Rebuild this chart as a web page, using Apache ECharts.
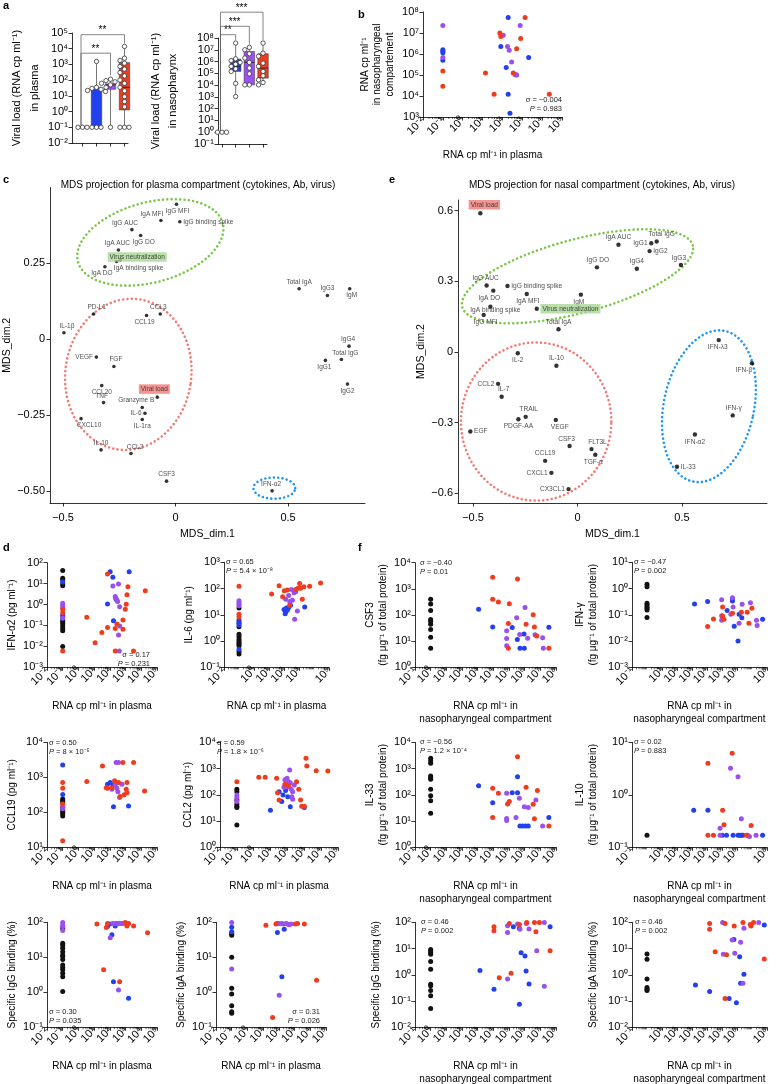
<!DOCTYPE html>
<html><head><meta charset="utf-8"><title>chart</title>
<script src="https://cdn.jsdelivr.net/npm/echarts@6.0.0/dist/echarts.min.js"></script>
<style>html,body{margin:0;padding:0;background:#fff}#chart{width:783px;height:1084px}</style>
</head><body><div id="chart"></div>
<script>
const FONT = "'Liberation Sans', Arial, Helvetica, sans-serif";
const COL = {k:'#111111', b:'#2340ee', p:'#9b50ee', r:'#f03c1e'};

// ---------- panel a ----------
const A_GROUPS = ['k','b','p','r'];
const A_PLASMA_VALUES = [
  [0.1,0.1,0.1],
  [1550,35,30,26,22,19,0.1,0.1,0.1],
  [115,93,78,63,50,35,0.1],
  [1.4e4,2500,1800,1200,740,500,300,186,102,63,35,21,8.9,4.3,2.0,0.1,0.1,0.1]
];
const A_PLASMA_BOX = [[0.1,0.1,0.1,0.1,0.1],[0.1,0.1,30,33,1550],[0.1,26,50,58,130],[0.1,1.26,35,1300,1.4e4]];
const A_PLASMA_SIG = [[0,2,5200,0.13,130],[0,3,7.8e4,0.13,1.4e4]];
const A_PLASMA_SIG_TEXT = ['**','**'];
const A_NASO_VALUES = [
  [1,1,1],
  [3.7e7,1.7e6,1.2e6,8.5e5,6e5,3.9e5,2.4e5,1.45e5,1.4e4,1070],
  [1.6e7,1e7,4.6e6,2e6,8.5e5,2.8e5,9.1e4,1.05e4,1.05e4],
  [3.7e7,5.2e6,2.8e6,7.4e5,3.9e5,1.45e5,6.2e4,2.8e4,1.66e4,1.05e4]
];
const A_NASO_BOX = [[1,1,1,1,1],[1070,1.45e5,3.9e5,1.6e6,3.7e7],[1.05e4,1.05e4,8.5e5,7.2e6,1.6e7],[1.05e4,3.9e4,2.8e5,4.6e6,3.7e7]];
const A_NASO_SIG = [[0,1,1.9e8,1.4,3.7e7],[0,2,9.8e8,1.4,1.6e7],[0,3,1.55e10,1.4,3.7e7]];
const A_NASO_SIG_TEXT = ['**','***','***'];

// ---------- panel b ----------
const B_PTS = [
  [0.1,2.3e7,'p'],[0.1,1.6e6,'b'],[0.1,1.35e6,'b'],[0.1,1.15e6,'b'],[0.1,6.8e5,'p'],[0.1,5.0e5,'b'],[0.1,1.55e5,'r'],[0.1,2.9e4,'r'],
  [14,1.26e5,'r'],[38,1.2e4,'r'],[74,1.0e7,'r'],[83,6.9e6,'r'],[110,7.9e6,'p'],[83,2.3e6,'b'],[195,5.4e7,'b'],[1380,5.4e7,'r'],
  [780,2.3e7,'p'],[830,5.4e6,'r'],[180,2.3e6,'p'],[220,1.5e6,'p'],[520,1.8e6,'r'],[2100,6.8e5,'b'],[290,4.2e5,'p'],[155,2.3e5,'b'],
  [350,1.26e5,'r'],[430,1.05e5,'p'],[520,1.0e5,'p'],[480,1.0e5,'p'],[195,1.2e4,'b'],[240,1.5e3,'b'],[2.3e4,1.2e4,'r']
];

// ---------- panel c (MDS plasma) ----------
const C_LABELS = ['IgG MFI','IgA MFI','IgG binding spike','IgG AUC','IgG DO','IgA AUC','Virus neutralization','IgA binding spike','IgA DO','Total IgA','IgG3','IgM','IgG4','Total IgG','IgG1','IgG2','PD-L1','CCL3','CCL19','IL-1β','VEGF','FGF','CCL20','TNF','Viral load','Granzyme B','IL-6','IL-1ra','CXCL10','IL-10','CCL2','CSF3','IFN-α2'];
const C_DIM1 = [0.004,-0.065,0.019,-0.194,-0.155,-0.254,-0.246,-0.262,-0.314,0.549,0.675,0.774,0.771,0.737,0.666,0.764,-0.364,-0.068,-0.129,-0.496,-0.352,-0.274,-0.328,-0.320,-0.081,-0.148,-0.136,-0.148,-0.420,-0.331,-0.198,-0.040,0.429];
const C_DIM2 = [0.445,0.391,0.387,0.361,0.342,0.294,0.261,0.256,0.239,0.166,0.144,0.166,-0.023,-0.067,-0.070,-0.148,0.083,0.083,0.078,0.021,-0.059,-0.090,-0.153,-0.209,-0.191,-0.225,-0.244,-0.265,-0.262,-0.365,-0.377,-0.468,-0.500];
// ellipse annotations: centre x, centre y, half-width, half-height (data units), tilt (deg)
const C_ELLIPSES = [[-0.112,0.319,0.333,0.132,15],[-0.210,-0.116,0.28,0.25,-8],[0.439,-0.491,0.093,0.035,0]];

// ---------- panel e (MDS nasal) ----------
const E_LABELS = ['Viral load','IgA AUC','IgG1','Total IgG','IgG2','IgG DO','IgG4','IgG3','IgG AUC','IgA DO','IgG binding spike','IgA MFI','IgM','IgA binding spike','Virus neutralization','IgG MFI','Total IgA','IL-2','IL-10','CCL2','IL-7','TRAIL','PDGF-AA','VEGF','EGF','CSF3','FLT3L','TGF-α','CCL19','CXCL1','CX3CL1','IFN-λ3','IFN-β','IFN-γ','IFN-α2','IL-33'];
const E_DIM1 = [-0.465,0.196,0.353,0.379,0.345,0.093,0.284,0.495,-0.435,-0.403,-0.335,-0.243,0.016,-0.417,-0.195,-0.449,-0.091,-0.286,-0.101,-0.380,-0.363,-0.248,-0.283,-0.104,-0.513,-0.038,0.067,0.085,-0.155,-0.125,-0.043,0.676,0.835,0.743,0.562,0.476];
const E_DIM2 = [0.589,0.455,0.461,0.469,0.428,0.359,0.353,0.369,0.282,0.260,0.280,0.246,0.243,0.192,0.183,0.157,0.096,-0.006,-0.059,-0.136,-0.191,-0.276,-0.286,-0.289,-0.338,-0.400,-0.413,-0.437,-0.463,-0.514,-0.583,0.050,-0.048,-0.270,-0.351,-0.488];
const E_ELLIPSES = [[0,0.321,0.571,0.156,15],[-0.198,-0.296,0.36,0.336,0],[0.629,-0.231,0.216,0.327,-12]];

// ---------- panels d and f ----------
const IFNA2_PTS = [
  [0.1,42,'k'],[0.1,18,'k'],[0.1,15,'k'],[0.1,12,'b'],[0.1,9.5,'k'],[0.1,7.9,'k'],
  [0.1,1.15,'p'],[0.1,0.89,'p'],[0.1,0.71,'p'],[0.1,0.59,'r'],[0.1,0.41,'r'],[0.1,0.32,'b'],[0.1,0.26,'b'],[0.1,0.22,'p'],
  [0.1,0.18,'k'],[0.1,0.15,'k'],[0.1,0.12,'k'],[0.1,0.093,'k'],[0.1,0.072,'k'],[0.1,0.056,'k'],[0.1,0.0098,'k'],[0.1,0.006,'r'],
  [3.4,0.25,'r'],[11.5,0.015,'r'],[31,0.046,'r'],[71,0.079,'r'],[71,29,'r'],[105,37,'b'],[155,20,'b'],[71,1.07,'b'],[170,0.17,'b'],[220,0.006,'r'],
  [155,7.8,'p'],[220,2.4,'p'],[240,2.0,'p'],[280,1.66,'p'],[310,1.41,'p'],[355,9.5,'p'],[420,0.79,'p'],[250,1.8,'b'],
  [220,0.072,'r'],[280,0.117,'r'],[355,0.035,'p'],[420,0.093,'p'],[680,0.066,'r'],[955,0.59,'r'],[1100,1.02,'r'],[1230,2.9,'r'],
  [1410,7.1,'r'],[1700,37,'b'],[1.8e4,4.6,'r'],[3200,0.006,'r'],[400,0.006,'p'],[680,0.18,'r']
];
const IL6_PTS = [
  [0.1,123,'r'],[0.1,34,'p'],[0.1,29,'p'],[0.1,25,'p'],[0.1,22,'p'],[0.1,18,'k'],[0.1,10.5,'r'],[0.1,8.5,'r'],[0.1,6.3,'b'],[0.1,5.5,'b'],
  [0.1,4.8,'k'],[0.1,4.1,'b'],[0.1,3.5,'k'],[0.1,1.8,'k'],[0.1,1.5,'k'],[0.1,1.2,'k'],[0.1,1.0,'k'],[0.1,0.87,'k'],[0.1,0.76,'k'],[0.1,0.65,'k'],
  [0.1,0.49,'b'],[0.1,0.40,'k'],[0.1,0.32,'k'],
  [15,62,'r'],[47,129,'r'],[81,49,'r'],[105,83,'r'],[166,89,'r'],[240,23,'r'],[1100,155,'r'],[1290,102,'r'],[2140,117,'r'],[1660,39,'r'],
  [5100,123,'r'],[2.75e4,162,'r'],[600,93,'r'],[850,102,'r'],
  [310,93,'p'],[470,69,'p'],[600,76,'p'],[204,54,'p'],[129,39,'p'],[363,36,'p'],[776,14,'p'],[513,6.8,'p'],[240,32,'p'],
  [100,16,'b'],[129,13,'b'],[166,15,'b'],[204,19,'b'],[275,23,'b'],[2400,20,'b'],[145,18,'b'],[120,11,'b']
];
const CSF3_PTS = [
  [1,400,'k'],[1,263,'k'],[1,148,'k'],[1,68,'k'],[1,56,'k'],[1,44,'k'],[1,28,'k'],[1,14,'k'],[1,5.4,'k'],
  [1150,166,'b'],[9100,2750,'r'],[9100,400,'r'],[9100,35,'b'],[2.1e4,316,'r'],[1.05e5,270,'r'],[7.1e4,25,'p'],[7.1e4,12.6,'p'],[7.1e4,6.6,'p'],
  [9.1e4,5.4,'r'],[9.1e4,47,'r'],[1.6e5,33,'b'],[3.1e5,79,'p'],[4.8e5,18,'p'],[3.4e5,11.5,'b'],[3.5e5,2400,'r'],[5.0e5,5.4,'b'],[9.1e5,18.6,'b'],
  [9.5e5,5.4,'b'],[1.05e6,195,'p'],[1.23e6,44,'r'],[1.55e6,12.9,'p'],[3.5e6,102,'r'],[4.2e6,35,'r'],[4.6e6,17.4,'p'],[5.9e6,15.8,'r'],
  [1.4e7,13.5,'p'],[1.55e7,5.4,'p'],[3.5e7,5.4,'r'],[3.5e7,34,'b']
];
const IFNG_PTS = [
  [1,1.45,'k'],[1,1.17,'k'],[1,0.275,'k'],[1,0.234,'k'],[1,0.204,'k'],[1,0.178,'k'],[1,0.151,'k'],[1,0.079,'k'],
  [1480,0.257,'b'],[1.1e4,0.324,'b'],[1.1e4,0.036,'r'],[2.7e4,0.069,'r'],[9.5e4,0.372,'p'],[9.5e4,0.093,'p'],[9.5e4,0.062,'p'],[1.1e5,0.2,'r'],
  [1.35e5,0.068,'r'],[1.1e5,0.091,'r'],[2.2e5,0.145,'b'],[3.9e5,0.105,'p'],[5.0e5,0.447,'p'],[5.0e5,0.389,'b'],[5.0e5,0.339,'b'],[5.5e5,0.2,'p'],
  [5.0e5,0.115,'r'],[6.5e5,0.037,'b'],[1.17e6,0.010,'b'],[1.38e6,0.105,'b'],[1.38e6,0.048,'p'],[2.1e6,0.078,'b'],[1.95e6,0.126,'r'],[2.2e6,0.251,'p'],
  [4.8e6,0.126,'r'],[6.2e6,0.048,'r'],[9.8e6,0.178,'r'],[7.9e6,0.288,'p'],[2.0e7,0.062,'p'],[2.2e7,0.039,'p'],[5.1e7,0.068,'b']
];
const CCL19_PTS = [
  [0.1,2240,'b'],[0.1,708,'r'],[0.1,490,'r'],[0.1,324,'b'],[0.1,240,'k'],[0.1,214,'k'],[0.1,195,'k'],[0.1,174,'r'],[0.1,155,'p'],[0.1,138,'k'],
  [0.1,126,'p'],[0.1,112,'k'],[0.1,100,'k'],[0.1,89,'k'],[0.1,79,'k'],[0.1,15.5,'r'],
  [3.4,760,'r'],[34,2090,'r'],[59,500,'r'],[71,630,'b'],[71,490,'r'],[105,708,'b'],[135,500,'r'],[155,603,'b'],[170,145,'b'],[135,457,'p'],
  [200,794,'r'],[250,2630,'p'],[355,2630,'p'],[220,603,'p'],[282,490,'p'],[324,389,'p'],[417,263,'p'],[590,630,'p'],[355,708,'r'],[457,282,'r'],
  [676,2630,'r'],[813,316,'r'],[1230,708,'r'],[1100,457,'r'],[1230,363,'r'],[1550,151,'b'],[3240,2630,'r'],[1.62e4,407,'r']
];
const CCL2_PTS = [
  [0.1,316,'r'],[0.1,162,'k'],[0.1,132,'k'],[0.1,98,'p'],[0.1,79,'p'],[0.1,63,'k'],[0.1,55,'p'],[0.1,45,'k'],[0.1,37,'k'],[0.1,33,'k'],[0.1,7.1,'k'],
  [2.0,468,'r'],[4.8,468,'r'],[23,427,'r'],[26,120,'r'],[32,63,'r'],[32,132,'b'],[9.8,26,'b'],[46,55,'b'],[55,98,'b'],[78,145,'b'],[105,85,'b'],
  [148,35,'b'],[1000,33,'b'],[71,251,'r'],[117,219,'r'],[347,316,'r'],[468,162,'r'],[603,63,'r'],[708,37,'r'],[1000,37,'r'],[1260,2450,'r'],
  [1410,1260,'r'],[5100,830,'r'],[2.5e4,810,'r'],
  [71,372,'p'],[95,427,'p'],[117,316,'p'],[148,288,'p'],[135,890,'p'],[166,162,'p'],[204,132,'p'],[110,204,'p'],[182,85,'p'],[204,68,'p'],[257,234,'p'],[62,195,'p']
];
const IL33_PTS = [
  [1,2450,'k'],[1,2000,'k'],[1,1580,'k'],[1,525,'k'],[1,447,'k'],[1,389,'k'],[1,162,'k'],[1,93,'k'],[1,59,'k'],[1,20,'k'],
  [1150,219,'b'],[9100,178,'r'],[9100,50,'b'],[9100,13.8,'r'],[2.1e4,115,'r'],[7.1e4,115,'p'],[7.1e4,12.6,'p'],[7.1e4,10.5,'p'],[8.1e4,45,'r'],
  [1.05e5,55,'r'],[1.6e5,120,'b'],[3.5e5,120,'b'],[3.5e5,2800,'r'],[3.5e5,490,'b'],[2.8e5,13.8,'p'],[4.6e5,74,'p'],[5.0e5,6.5,'b'],[7.4e5,6.5,'b'],
  [1.15e6,6.5,'b'],[1.7e6,6.5,'b'],[1.23e6,195,'r'],[9.5e5,35,'p'],[1.7e6,33,'p'],[3.5e6,44,'r'],[4.2e6,12.3,'r'],[5.2e6,63,'p'],[6.5e6,145,'r'],
  [1.4e7,6.5,'p'],[3.5e7,6.5,'r'],[3.5e7,13.8,'b']
];
const IL10_PTS = [
  [1,0.17,'k'],
  [1300,0.51,'b'],[1.15e4,0.51,'b'],[1.15e4,4.0,'r'],[1.15e4,0.17,'r'],[2.7e4,0.17,'r'],[7.4e4,0.17,'p'],[7.4e4,0.23,'p'],[1.05e5,0.17,'b'],
  [1.1e5,0.51,'r'],[1.35e5,0.27,'r'],[2.0e5,0.17,'b'],[3.7e5,3.2,'p'],[4.8e5,6.2,'r'],[5.5e5,0.17,'b'],[1.17e6,2.2,'p'],[1.17e6,0.17,'b'],
  [1.5e6,0.17,'b'],[1.95e6,0.35,'p'],[1.95e6,0.17,'b'],[2.5e6,0.17,'b'],[4.2e6,0.17,'r'],[5.2e6,0.17,'p'],[6.8e6,0.16,'p'],[8.7e6,0.26,'r'],
  [1.86e7,0.17,'p'],[5.1e7,0.17,'b']
];
const IGG_PLASMA_PTS = [
  [0.1,98,'p'],[0.1,83,'p'],[0.1,76,'p'],[0.1,68,'k'],[0.1,58,'p'],[0.1,25,'k'],[0.1,22,'k'],[0.1,18,'k'],[0.1,14.5,'k'],[0.1,11.7,'k'],
  [0.1,10.5,'k'],[0.1,8.7,'k'],[0.1,6.0,'k'],[0.1,5.1,'k'],[0.1,4.4,'k'],[0.1,3.5,'k'],[0.1,2.8,'k'],[0.1,1.05,'k'],
  [15,89,'r'],[59,71,'r'],[71,93,'r'],[40,4.4,'r'],[417,2.0,'r'],[955,98,'r'],[1230,79,'r'],[1550,93,'r'],[3240,79,'r'],[2.5e4,50,'r'],
  [71,76,'b'],[135,44,'b'],[170,2.0,'b'],[1550,0.68,'b'],[220,79,'b'],[100,90,'b'],
  [105,36,'p'],[355,1.17,'p'],[155,93,'p'],[220,93,'p'],[282,93,'p'],[355,93,'p'],[457,93,'p'],[590,93,'p'],[760,93,'p']
];
const IGA_PLASMA_PTS = [
  [0.1,98,'p'],[0.1,72,'b'],[0.1,54,'b'],[0.1,48,'k'],[0.1,43,'k'],[0.1,10,'k'],[0.1,4.6,'p'],[0.1,1.3,'k'],[0.1,0.89,'k'],[0.1,0.41,'k'],
  [0.1,0.28,'k'],[0.1,0.25,'k'],
  [15,83,'r'],[65,89,'r'],[81,93,'b'],[81,51,'b'],[220,63,'b'],[155,2.8,'b'],[105,0.83,'p'],[40,0.19,'r'],[2.5e4,2.2,'r'],
  [100,93,'p'],[150,93,'p'],[200,89,'p'],[280,93,'p'],[350,89,'p'],[450,85,'p'],[600,89,'p'],
  [1100,89,'r'],[1550,93,'r'],[4200,89,'r']
];
const IGG_NASAL_PTS = [
  [1,9.3,'k'],[1,8.1,'k'],[1,6.9,'k'],[1,6.0,'k'],[1,3.2,'k'],[1,1.62,'k'],[1,0.44,'k'],[1,0.38,'k'],[1,0.25,'k'],[1,0.16,'k'],[1,0.052,'k'],
  [1400,1.45,'b'],[1.1e4,68,'r'],[1.1e4,48,'r'],[1.1e4,0.28,'b'],[2.4e4,0.78,'r'],[1.05e5,91,'r'],[8.1e4,41,'p'],[8.1e4,74,'p'],[8.1e4,0.69,'p'],
  [1.35e5,1.15,'r'],[1.9e5,68,'b'],[3.5e5,87,'p'],[4.6e5,83,'r'],[5.0e5,54,'p'],[4.6e5,59,'b'],[5.9e5,6.9,'b'],[1.05e6,5.2,'b'],[1.23e6,1.41,'b'],
  [4.6e5,0.076,'b'],[1.35e6,98,'r'],[1.3e6,90,'p'],[1.9e6,56,'p'],[1.9e6,0.45,'b'],[5.2e6,44,'r'],[4.2e6,98,'r'],[8.7e6,98,'r'],[5.9e6,8.3,'p'],
  [1.8e7,98,'p'],[1.8e7,0.37,'p'],[4.2e7,8.3,'r'],[4.2e7,68,'b']
];
const IGA_NASAL_PTS = [
  [1,6.2,'k'],[1,3.9,'k'],[1,0.69,'k'],[1,0.33,'k'],[1,0.28,'k'],[1,0.25,'k'],
  [1700,0.41,'b'],[1.5e4,0.23,'b'],[1.5e4,91,'r'],[1.5e4,54,'r'],[3.5e4,7.6,'r'],[1.1e5,98,'p'],[1.6e5,91,'r'],[1.23e5,6.0,'p'],[2.0e5,5.8,'r'],
  [1.6e5,0.126,'r'],[6.5e5,72,'r'],[6.2e5,22,'b'],[4.8e5,21,'p'],[7.1e5,6.6,'p'],[9.1e5,0.087,'b'],[3.0e5,0.126,'b'],[1.5e6,4.9,'b'],[1.74e6,17.4,'p'],
  [1.74e6,0.48,'b'],[2.9e6,59,'p'],[2.5e6,98,'r'],[7.6e6,83,'r'],[1.26e7,98,'r'],[8.7e6,72,'r'],[2.9e6,1.05,'b'],[2.5e6,0.48,'p'],[2.8e7,98,'p'],
  [6.6e7,79,'b'],[6.6e7,4.0,'r']
];
// correlation statistics shown in the panels
const STATS = {
  b:['−0.004','0.983'], ifna2:['0.17','0.231'], il6:['0.65','5.4 × 10⁻⁸'], csf3:['−0.40','0.01'], ifng:['−0.47','0.002'],
  ccl19:['0.50','8 × 10⁻⁵'], ccl2:['0.59','1.8 × 10⁻⁶'], il33:['−0.56','1.2 × 10⁻⁴'], il10:['0.02','0.883'],
  iggP:['0.30','0.035'], igaP:['0.31','0.026'], iggN:['0.46','0.002'], igaN:['0.46','0.002']
};

// ================= layout / styling =================
const SUP = {'-':'⁻','0':'⁰','1':'¹','2':'²','3':'³','4':'⁴','5':'⁵','6':'⁶','7':'⁷','8':'⁸','9':'⁹'};
const sup = s => String(s).replace(/[-0-9]/g, c => SUP[c]);
const powLabel = v => '10' + sup(Math.round(Math.log10(v)));
const XN_PLASMA = 'RNA cp ml⁻¹ in plasma';
const XN_NASAL = 'RNA cp ml⁻¹ in\nnasopharyngeal compartment';

const option = {animation:false, backgroundColor:'#ffffff', textStyle:{fontFamily:FONT},
  grid:[], xAxis:[], yAxis:[], series:[], graphic:{elements:[]}};
const GE = option.graphic.elements;
function addGrid(l,t,w,h){ option.grid.push({left:l, top:t, width:w, height:h, outerBoundsMode:'none', containLabel:false}); return option.grid.length-1; }
const axLine = () => ({show:true, onZero:false, lineStyle:{color:'#000', width:0.8}});
const axTick = (extra) => Object.assign({show:true, length:3.5, inside:false, lineStyle:{color:'#000', width:0.8}}, extra||{});
const nameStyle = (fs, lh) => ({fontSize:fs||10, color:'#000', lineHeight:lh||13, fontFamily:FONT});

function logAxis(gi, min, max, horiz, name, gap, extra){
  return Object.assign({type:'log', logBase:10, gridIndex:gi, min, max, interval:1,
    axisLine:axLine(), axisTick:axTick(), splitLine:{show:false}, minorTick:{show:false},
    axisLabel:{fontSize:11, color:'#000', margin:horiz?2:4, rotate:horiz?45:0, interval:0, showMinLabel:true, showMaxLabel:true, hideOverlap:false, formatter:powLabel, fontFamily:FONT},
    name, nameLocation:'middle', nameGap:gap, nameRotate:horiz?0:90, nameTextStyle:nameStyle()}, extra||{});
}
function valAxis(gi, min, max, ticks, dec, horiz, name, gap){
  const fmt = v => v===0 ? '0' : (v<0?'−':'') + Math.abs(v).toFixed(dec);
  return {type:'value', gridIndex:gi, min, max, axisLine:axLine(), axisTick:axTick({customValues:ticks}),
    axisLabel:{customValues:ticks, formatter:fmt, fontSize:11, color:'#000', margin:horiz?9:5, fontFamily:FONT},
    splitLine:{show:false}, name, nameLocation:'middle', nameGap:gap, nameRotate:horiz?0:90, nameTextStyle:nameStyle(10.5)};
}
function addPoints(gi, pts, size){
  ['k','b','p','r'].forEach(g => {
    const d = pts.filter(p => p[2]===g).map(p => [p[0], p[1]]);
    if (d.length) option.series.push({type:'scatter', xAxisIndex:gi, yAxisIndex:gi, data:d, symbolSize:size,
      itemStyle:{color:COL[g], opacity:1}, silent:true, z:3});
  });
}
// log-spaced minor ticks along the bottom axis (axis decoration)
function addMinorX(gi, xr, yMin){
  const vals = [];
  for (let e = Math.round(Math.log10(xr[0])); e < Math.round(Math.log10(xr[1])); e++)
    for (let m = 2; m <= 9; m++) vals.push([m * Math.pow(10, e), yMin]);
  option.series.push({type:'custom', xAxisIndex:gi, yAxisIndex:gi, silent:true, clip:false, z:1, data:vals,
    renderItem(params, api){
      const c = api.coord([api.value(0), api.value(1)]);
      return {type:'line', shape:{x1:c[0], y1:c[1], x2:c[0], y2:c[1]+2}, style:{stroke:'#000', lineWidth:0.6}};
    }});
}
function text(x, y, str, o){
  o = o || {};
  GE.push({type:'text', x, y, silent:true, style:Object.assign({text:str, fill:o.fill||'#000', fontSize:o.fs||10, fontFamily:FONT,
    fontWeight:o.fw||'normal', align:o.align||'left', textAlign:o.align||'left', verticalAlign:'middle', textVerticalAlign:'middle'}, o.style||{})});
}
function stat(x, y, s, align){
  const rich = {n:{fontSize:7.5, fontFamily:FONT, fill:'#222'}, i:{fontSize:7.5, fontFamily:FONT, fontStyle:'italic', fill:'#222'}};
  text(x, y, '{n|σ = ' + s[0] + '}', {align, style:{rich}});
  text(x, y+8.5, '{i|P}{n| = ' + s[1] + '}', {align, style:{rich}});
}

// ---------- panel a ----------
function swarm(vals, pxDec){
  const placed = [];
  return vals.map(v => {
    const y = Math.log10(v) * pxDec;
    for (const dx of [0,-4.5,4.5,-9,9]) {
      if (placed.every(q => Math.hypot(q[0]-dx, q[1]-y) >= 4.3)) { placed.push([dx,y]); return dx; }
    }
    placed.push([0,y]); return 0;
  });
}
function boxPanel(gi, values, boxes, sig, sigText, pxDec){
  option.series.push({type:'custom', xAxisIndex:gi, yAxisIndex:gi, silent:true, z:2,
    data: boxes.map((b,i) => [i].concat(b)),
    renderItem(params, api){
      const i = api.value(0), col = COL[A_GROUPS[params.dataIndex]];
      const pMin = api.coord([i, api.value(1)]), pQ1 = api.coord([i, api.value(2)]), pMed = api.coord([i, api.value(3)]);
      const pQ3 = api.coord([i, api.value(4)]), pMax = api.coord([i, api.value(5)]);
      const w = 10.5, x = pMin[0];
      return {type:'group', children:[
        {type:'line', shape:{x1:x, y1:pMin[1], x2:x, y2:pMax[1]}, style:{stroke:'#555', lineWidth:0.8}},
        {type:'rect', shape:{x:x-w/2, y:pQ3[1], width:w, height:Math.max(0.01, pQ1[1]-pQ3[1])}, style:{fill:col, stroke:'#333', lineWidth:0.5}},
        {type:'line', shape:{x1:x-w/2, y1:pMed[1], x2:x+w/2, y2:pMed[1]}, style:{stroke:'#222', lineWidth:0.9}}
      ]};
    }});
  const pts = [];
  values.forEach((vals, c) => { const dxs = swarm(vals, pxDec); vals.forEach((v, j) => pts.push([c, v, dxs[j]])); });
  option.series.push({type:'custom', xAxisIndex:gi, yAxisIndex:gi, silent:true, z:3, data:pts,
    renderItem(params, api){
      const p = api.coord([api.value(0), api.value(1)]);
      return {type:'circle', shape:{cx:p[0]+api.value(2), cy:p[1], r:2.2}, style:{fill:'#fff', stroke:'#333', lineWidth:0.8}};
    }});
  option.series.push({type:'custom', xAxisIndex:gi, yAxisIndex:gi, silent:true, z:2, clip:false, data:sig,
    renderItem(params, api){
      const a = api.coord([api.value(0), api.value(2)]), b = api.coord([api.value(1), api.value(2)]);
      const e1 = api.coord([api.value(0), api.value(3)]), e2 = api.coord([api.value(1), api.value(4)]);
      return {type:'group', children:[
        {type:'polyline', shape:{points:[[e1[0]-1.5,e1[1]],[a[0]-1.5,a[1]],[b[0],b[1]],[e2[0],e2[1]-3]]}, style:{stroke:'#666', lineWidth:0.8, fill:null}},
        {type:'text', x:(a[0]+b[0])/2 - 1, y:a[1]+1, style:{text:sigText[params.dataIndex], fontSize:10, fontFamily:FONT, fill:'#000',
          align:'center', textAlign:'center', verticalAlign:'bottom', textVerticalAlign:'bottom'}}
      ]};
    }});
}
let gi = addGrid(72,33,56,110);
option.xAxis.push({type:'value', gridIndex:gi, min:-0.75, max:3.25, axisLine:axLine(), axisTick:axTick({customValues:[0,1,2,3]}), axisLabel:{show:false}, splitLine:{show:false}});
option.yAxis.push(logAxis(gi, 1e-2, 1e5, false, 'Viral load (RNA cp ml⁻¹)\nin plasma', 22, {nameTextStyle:nameStyle(11,18)}));
boxPanel(gi, A_PLASMA_VALUES, A_PLASMA_BOX, A_PLASMA_SIG, A_PLASMA_SIG_TEXT, 15.7);

gi = addGrid(218,38,49,106);
option.xAxis.push({type:'value', gridIndex:gi, min:-0.29, max:3.29, axisLine:axLine(), axisTick:axTick({customValues:[0,1,2,3]}), axisLabel:{show:false}, splitLine:{show:false}});
option.yAxis.push(logAxis(gi, 1e-1, 1e8, false, 'Viral load (RNA cp ml⁻¹)\nin nasopharynx', 37, {nameTextStyle:nameStyle(11,17)}));
boxPanel(gi, A_NASO_VALUES, A_NASO_BOX, A_NASO_SIG, A_NASO_SIG_TEXT, 11.8);

// ---------- panel b ----------
gi = addGrid(423,12,139,105);
option.xAxis.push(logAxis(gi, 1e-2, 1e5, true, XN_PLASMA, 32));
option.yAxis.push(logAxis(gi, 1e3, 1e8, false, 'RNA cp ml⁻¹\nin nasopharyngeal\ncompartement', 27, {nameTextStyle:nameStyle(10,12.5)}));
addMinorX(gi, [1e-2,1e5], 1e3);
addPoints(gi, B_PTS, 5);
stat(562, 100, STATS.b, 'right');

// ---------- MDS panels ----------
const C_LAY = [['bottom',1,0],['top',-9,0],['right',0,0],['top',-7,0],['bottom',3,0],['top',-1,0],['inside',17,-3,'#a9d796'],['inside',22,7],
  ['bottom',-3,0],['top',0,0],['top',0,0],['bottom',2,0],['top',-1,0],['top',4,0],['bottom',-1,0],['bottom',0,0],['top',3,0],['top',-2,0],
  ['bottom',-2,0],['top',3,0],['left',0,0],['top',2,0],['bottom',0,0],['top',-2,0],['top',-3,0,'#f07a78'],['top',-6,0],['left',0,0],
  ['bottom',0,0],['bottom',8,0],['top',0,0],['top',4,0],['top',0,0],['top',-1,0]];
const E_LAY = [['top',4,0,'#f07a78'],['top',0,0],['left',0,0],['top',5,0],['right',0,0],['top',1,0],['top',0,0],['top',-2,0],['top',-1,0],
  ['bottom',-4,0],['right',0,0],['bottom',1,0],['bottom',-2,0],['inside',5,4],['right',0,0,'#a9d796'],['bottom',2,0],['top',0,0],['bottom',0,0],
  ['top',0,0],['left',0,0],['top',2,0],['top',3,0],['bottom',0,0],['bottom',4,0],['right',0,0],['top',-3,0],['top',6,0],['bottom',-2,0],
  ['top',0,0],['left',0,0],['left',0,0],['bottom',-1,0],['bottom',-8,0],['top',1,0],['bottom',0,0],['right',0,0]];
const ELL_COL = ['#7cc64a','#f37a72','#2196f3'];
function mds(gi, names, d1, d2, lay, ells, dot, fs){
  option.series.push({type:'custom', xAxisIndex:gi, yAxisIndex:gi, silent:true, z:1, clip:false, data:ells,
    renderItem(params, api){
      const c = api.coord([api.value(0), api.value(1)]);
      const s = api.size([api.value(2), api.value(3)]);
      const th = api.value(4) * Math.PI / 180, a = s[0], b = s[1];
      const pts = [];
      for (let k = 0; k < 120; k++) {
        const t = k / 120 * 2 * Math.PI, x = a*Math.cos(t), y = b*Math.sin(t);
        pts.push([c[0] + x*Math.cos(th) - y*Math.sin(th), c[1] - (x*Math.sin(th) + y*Math.cos(th))]);
      }
      return {type:'polygon', shape:{points:pts}, style:{fill:null, stroke:ELL_COL[params.dataIndex], lineWidth:2.6, lineDash:[0.01,4.3], lineCap:'round'}};
    }});
  const data = names.map((n,i) => {
    const L = lay[i];
    const lab = {show:true, position:L[0], offset:[L[1],L[2]], formatter:n};
    if (L[3]) { lab.backgroundColor = L[3]; lab.padding = [1.5,2,1,2]; }
    return {value:[d1[i], d2[i]], name:n, label:lab};
  });
  option.series.push({type:'scatter', xAxisIndex:gi, yAxisIndex:gi, data, symbolSize:dot, silent:true, z:4,
    itemStyle:{color:'#000'}, label:{fontSize:fs, color:'#222', distance:1.5, fontFamily:FONT}});
}
gi = addGrid(50,187.5,315,315.5);
option.xAxis.push(valAxis(gi, -0.558, 0.842, [-0.5,0,0.5], 1, true, 'MDS_dim.1', 25));
option.yAxis.push(valAxis(gi, -0.54, 0.5, [-0.5,-0.25,0,0.25], 2, false, 'MDS_dim.2', 34));
mds(gi, C_LABELS, C_DIM1, C_DIM2, C_LAY, C_ELLIPSES, 3.6, 6.5);

gi = addGrid(458,200,309,303);
option.xAxis.push(valAxis(gi, -0.572, 0.907, [-0.5,0,0.5], 1, true, 'MDS_dim.1', 25));
option.yAxis.push(valAxis(gi, -0.642, 0.645, [-0.6,-0.3,0,0.3,0.6], 1, false, 'MDS_dim.2', 30));
mds(gi, E_LABELS, E_DIM1, E_DIM2, E_LAY, E_ELLIPSES, 4.4, 6.6);

// ---------- panels d & f ----------
const PANELS = [
  {pts:IFNA2_PTS, box:[47,562.7,110,104.6], xr:[1e-2,1e5], yr:[1e-3,1e2], xn:XN_PLASMA, yn:'IFN-α2 (pg ml⁻¹)', yg:28, st:[STATS.ifna2,150,655,'right']},
  {pts:IL6_PTS, box:[224,562.3,105,105], xr:[1e-2,1e5], yr:[1e-1,1e3], xn:XN_PLASMA, yn:'IL-6 (pg ml⁻¹)', yg:19, st:[STATS.il6,226,562,'left']},
  {pts:CSF3_PTS, box:[415,562.7,141,104.6], xr:[1e-1,1e8], yr:[1,1e4], xn:XN_NASAL, yn:'CSF3\n(fg μg⁻¹ of total protein)', yg:23, st:[STATS.csf3,420,563,'left']},
  {pts:IFNG_PTS, box:[632,562.3,135,105], xr:[1e-1,1e8], yr:[1e-3,1e1], xn:XN_NASAL, yn:'IFN-γ\n(fg μg⁻¹ of total protein)', yg:32, st:[STATS.ifng,634,562,'left']},
  {pts:CCL19_PTS, box:[47,742.3,110,105], xr:[1e-2,1e5], yr:[10,1e4], xn:XN_PLASMA, yn:'CCL19 (pg ml⁻¹)', yg:28, st:[STATS.ccl19,49,743,'left']},
  {pts:CCL2_PTS, box:[220,742.3,118,105], xr:[1e-2,1e5], yr:[1,1e4], xn:XN_PLASMA, yn:'CCL2 (pg ml⁻¹)', yg:16, st:[STATS.ccl2,217,743,'left']},
  {pts:IL33_PTS, box:[415,742.3,141,105], xr:[1e-1,1e8], yr:[1,1e4], xn:XN_NASAL, yn:'IL-33\n(fg μg⁻¹ of total protein)', yg:23, st:[STATS.il33,420,742,'left']},
  {pts:IL10_PTS, box:[632,742.3,135,105], xr:[1e-1,1e8], yr:[1e-1,1e1], xn:XN_NASAL, yn:'IL-10\n(fg μg⁻¹ of total protein)', yg:32, st:[STATS.il10,634,742,'left']},
  {pts:IGG_PLASMA_PTS, box:[47,922.3,110,105], xr:[1e-2,1e5], yr:[1e-1,1e2], xn:XN_PLASMA, yn:'Specific IgG binding (%)', yg:27, st:[STATS.iggP,49,1012,'left']},
  {pts:IGA_PLASMA_PTS, box:[216,922.3,110,105], xr:[1e-2,1e5], yr:[1e-1,1e2], xn:XN_PLASMA, yn:'Specific IgA binding (%)', yg:19, st:[STATS.igaP,320,1012,'right']},
  {pts:IGG_NASAL_PTS, box:[415,922.3,141,105], xr:[1e-1,1e8], yr:[1e-2,1e2], xn:XN_NASAL, yn:'Specific IgG binding (%)', yg:32, st:[STATS.iggN,421,922,'left']},
  {pts:IGA_NASAL_PTS, box:[632,922.3,135,105], xr:[1e-1,1e8], yr:[1e-2,1e2], xn:XN_NASAL, yn:'Specific IgA binding (%)', yg:32, st:[STATS.igaN,635,922,'left']}
];
PANELS.forEach(P => {
  const g = addGrid(P.box[0], P.box[1], P.box[2], P.box[3]);
  option.xAxis.push(logAxis(g, P.xr[0], P.xr[1], true, P.xn, 32));
  option.yAxis.push(logAxis(g, P.yr[0], P.yr[1], false, P.yn, P.yg));
  addMinorX(g, P.xr, P.yr[0]);
  addPoints(g, P.pts, 5);
  stat(P.st[1], P.st[2], P.st[0], P.st[3]);
});

// ---------- titles / letters ----------
text(198, 185, 'MDS projection for plasma compartment (cytokines, Ab, virus)', {align:'center', fs:10});
text(602, 185, 'MDS projection for nasal compartment (cytokines, Ab, virus)', {align:'center', fs:10});
[['a',3,6],['b',358,15],['c',3,180],['d',3,548],['e',389,180],['f',358,548]].forEach(L => text(L[1], L[2], L[0], {fs:11, fw:'bold'}));

const chart = echarts.init(document.getElementById('chart'), null, {renderer:'canvas'});
chart.setOption(option);
</script></body></html>
